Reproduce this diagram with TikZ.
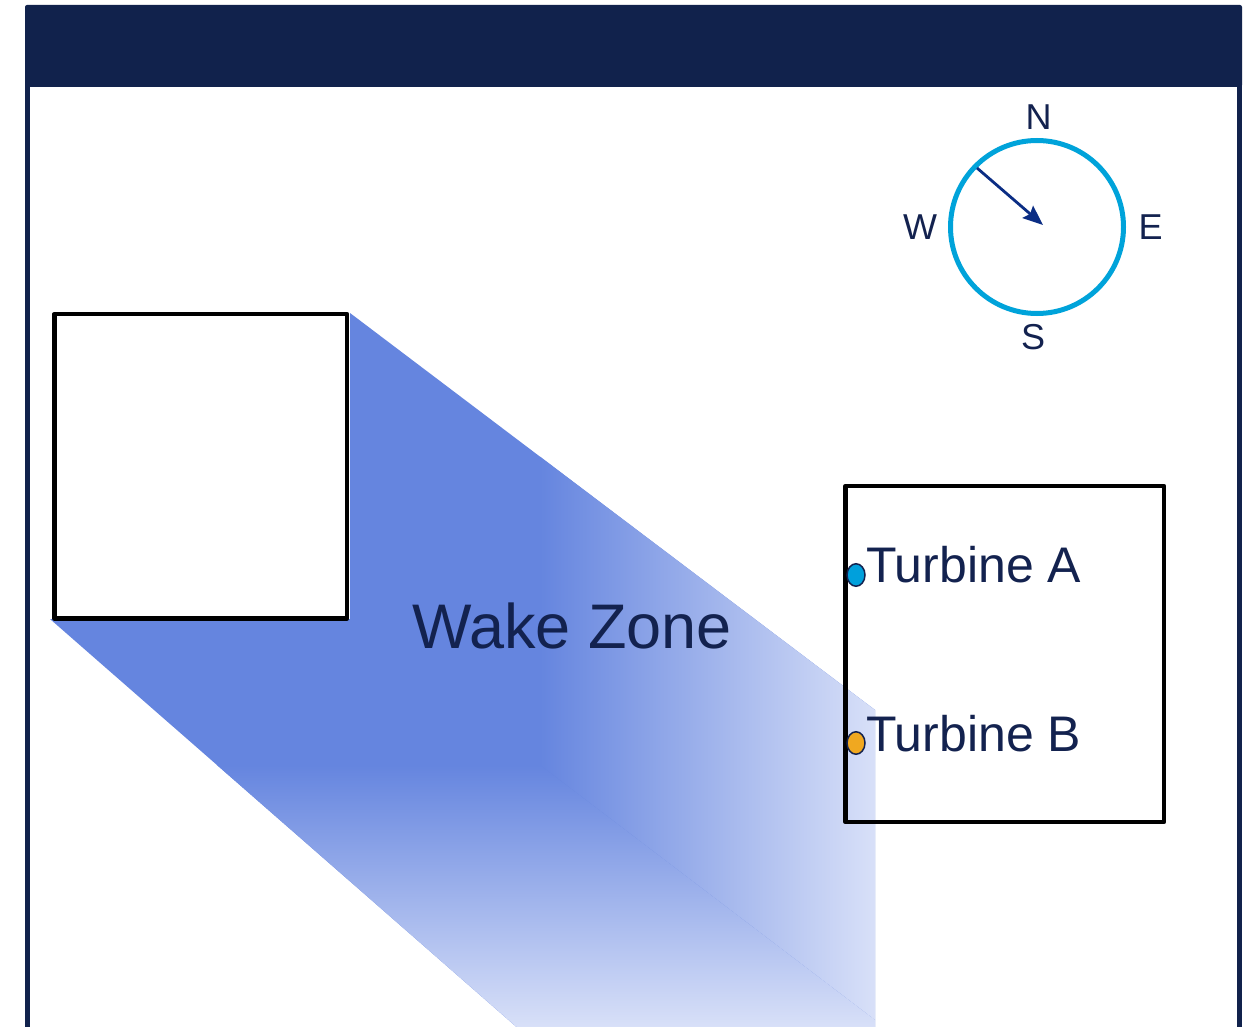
\documentclass[tikz,border=0pt]{standalone}
\usepackage{fontspec}
\setmainfont{Liberation Sans}
\usetikzlibrary{arrows.meta}
\definecolor{navy}{HTML}{11224C}
\definecolor{textnavy}{HTML}{13224F}
\definecolor{compasscyan}{HTML}{00A3DA}
\definecolor{arrowblue}{HTML}{0B2D84}
\definecolor{wakeblue}{HTML}{6585DF}
\definecolor{wakelight}{HTML}{D8E0F8}
\definecolor{dotblue}{HTML}{00A0DC}
\definecolor{dotorange}{HTML}{F0A820}
\tikzset{
  framebar/.style={fill=navy, rounded corners=2pt},
  frameline/.style={draw=navy, line width=5pt},
  zonebox/.style={draw=black, line width=4.8pt, line join=round, minimum width=0pt, inner sep=0pt},
  compasslabel/.style={text=textnavy, inner sep=0pt, anchor=base, font=\fontsize{36}{40}\selectfont},
  turbinelabel/.style={text=textnavy, inner sep=0pt, anchor=base west, font=\fontsize{50}{60}\selectfont},
  wakelabel/.style={text=textnavy, inner sep=0pt, anchor=base west, font=\fontsize{63}{70}\selectfont},
  turbinedot/.style={draw=textnavy, line width=1.5pt, circle, inner sep=0pt, minimum size=18pt, yscale=1.25},
}
\begin{document}
\begin{tikzpicture}[x=1pt,y=-1pt]
\useasboundingbox (0,0) rectangle (1259,1027);
\clip (0,0) rectangle (1259,1027);
\fill[white] (0,0) rectangle (1259,1027);

% wake zone with combined gradients
\begin{scope}
  \clip (350,313) -- (875,710) -- (875,1030) -- (520,1030) -- (50,619) -- (350,619) -- cycle;
  \fill[wakeblue] (0,300) rectangle (900,1040);
  \begin{scope}
    \clip (540,765) -- (1000,1115) -- (1000,0) -- (540,0) -- cycle;
    \shade[left color=wakeblue, right color=wakelight] (540,0) rectangle (875,1115);
  \end{scope}
  \begin{scope}
    \clip (540,765) -- (1000,1115) -- (0,1115) -- (0,765) -- cycle;
    \shade[top color=wakeblue, bottom color=wakelight] (0,765) rectangle (1000,1027);
  \end{scope}
\end{scope}

% frame
\fill[framebar] (25,5) rectangle (1242,87);
\draw[frameline] (27.5,85) -- (27.5,1035);
\draw[frameline] (1239.5,85) -- (1239.5,1035);

% boxes
\node[zonebox, minimum width=292.5pt, minimum height=304.5pt] (leftbox) at (200.75,466.25) {};
\node[zonebox, minimum width=318.5pt, minimum height=336pt] (rightbox) at (1004.75,654) {};

% wake label
\node[wakelabel] (wake) at (412,648) {Wake Zone};

% turbines
\node[turbinedot, fill=dotblue] (dotA) at (856,575) {};
\node[turbinedot, fill=dotorange] (dotB) at (856,743) {};
\node[turbinelabel] (labA) at (866,582) {Turbine A};
\node[turbinelabel] (labB) at (866,751) {Turbine B};

% compass
\node[draw=compasscyan, line width=5pt, circle, minimum size=173pt, inner sep=0pt] (compass) at (1037,227) {};
\coordinate (arrstart) at (977,168);
\coordinate (arrend) at (1043,225);
\draw[arrowblue, line width=2.8pt, -{Stealth[length=20pt,width=16pt,inset=3pt]}] (arrstart) -- (arrend);
\node[compasslabel] (N) at (1038.5,130) {N};
\node[compasslabel] (W) at (920,240) {W};
\node[compasslabel] (E) at (1150.5,240) {E};
\node[compasslabel] (S) at (1033,349) {S};
\end{tikzpicture}
\end{document}
